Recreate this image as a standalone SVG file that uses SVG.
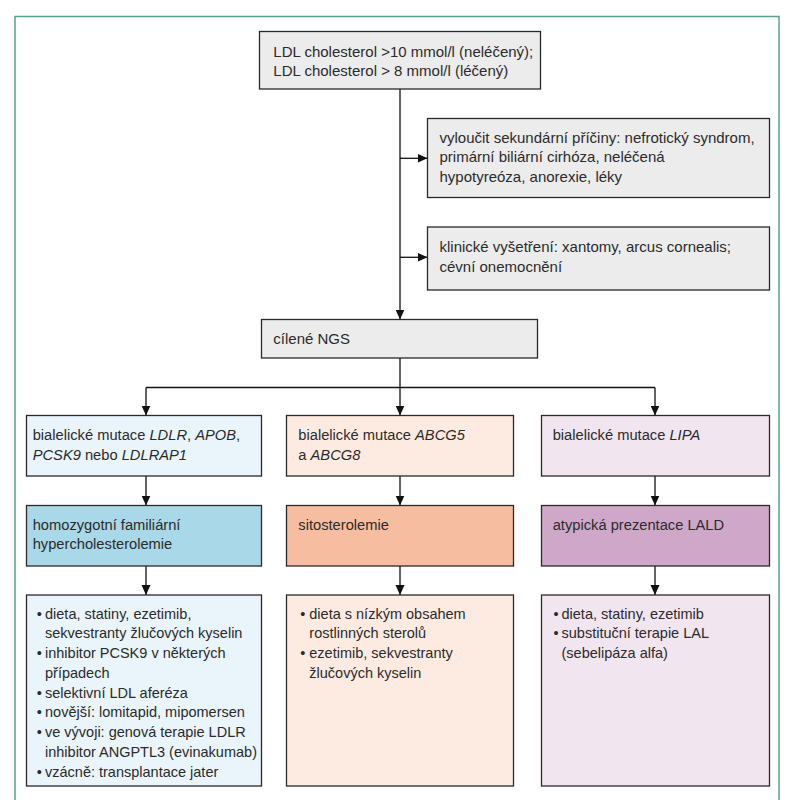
<svg xmlns="http://www.w3.org/2000/svg" width="796" height="800" viewBox="0 0 796 800">
<defs>
<marker id="ah" markerUnits="userSpaceOnUse" markerWidth="11" markerHeight="10" refX="10" refY="4.5" orient="auto">
<path d="M0,0 L10,4.5 L0,9 z" fill="#111"/>
</marker>
<style>
.t{font-family:"Liberation Sans",Arial,sans-serif;font-size:15px;fill:#2b2b2b}
.c{font-size:14.7px}
.r{font-size:14.5px}
.i{font-style:italic}
.box{stroke:#2a2a2a;stroke-width:1.3}
.gray{fill:#ececec}
.lb{fill:#e9f5fa}.db{fill:#a9d8e8}
.lo{fill:#fdebe2}.do{fill:#f6bda1}
.lp{fill:#f1e5f0}.dp{fill:#cfa7c9}
.con{stroke:#111;stroke-width:1.3;fill:none}
</style>
</defs>
<rect width="796" height="800" fill="#fff"/>
<rect x="15" y="16.5" width="764" height="800" fill="none" stroke="#5ca386" stroke-width="1.5"/>

<g id="connectors">
<path class="con" d="M400,89 V319.5" marker-end="url(#ah)"/>
<path class="con" d="M400,158.3 H427.5" marker-end="url(#ah)"/>
<path class="con" d="M400,257.3 H427.5" marker-end="url(#ah)"/>
<path class="con" d="M400,358 V387.5 M146,387.5 H655"/>
<path class="con" d="M146,387.5 V415.5" marker-end="url(#ah)"/>
<path class="con" d="M400,387.5 V415.5" marker-end="url(#ah)"/>
<path class="con" d="M655,387.5 V415.5" marker-end="url(#ah)"/>
<path class="con" d="M146,476 V505.5" marker-end="url(#ah)"/>
<path class="con" d="M400,476 V505.5" marker-end="url(#ah)"/>
<path class="con" d="M655,476 V505.5" marker-end="url(#ah)"/>
<path class="con" d="M146,566 V595" marker-end="url(#ah)"/>
<path class="con" d="M400,566 V595" marker-end="url(#ah)"/>
<path class="con" d="M655,566 V595" marker-end="url(#ah)"/>
</g>

<g id="ldl">
<rect class="box gray" x="259.5" y="31.5" width="281" height="57.5"/>
<text class="t" x="273.3" y="57">LDL cholesterol &gt;10 mmol/l (neléčený);</text>
<text class="t" x="273.3" y="76">LDL cholesterol &gt; 8 mmol/l (léčený)</text>
</g>

<g id="sekundarni">
<rect class="box gray" x="427.5" y="118.5" width="342" height="79"/>
<text class="t" x="439.5" y="142.5">vyloučit sekundární příčiny: nefrotický syndrom,</text>
<text class="t" x="439.5" y="162">primární biliární cirhóza, neléčená</text>
<text class="t" x="439.5" y="181.5">hypotyreóza, anorexie, léky</text>
</g>

<g id="klinicke">
<rect class="box gray" x="427.5" y="227" width="342" height="63"/>
<text class="t" x="439.5" y="252">klinické vyšetření: xantomy, arcus cornealis;</text>
<text class="t" x="439.5" y="271.5">cévní onemocnění</text>
</g>

<g id="ngs">
<rect class="box gray" x="261.5" y="319.5" width="276" height="38.5"/>
<text class="t" x="273.3" y="343.5">cílené NGS</text>
</g>

<g id="mut1">
<rect class="box lb" x="26.5" y="415.5" width="235" height="60.5"/>
<text class="t c" x="32.7" y="440">bialelické mutace <tspan class="i">LDLR</tspan>, <tspan class="i">APOB</tspan>,</text>
<text class="t c" x="32.7" y="459.5"><tspan class="i">PCSK9</tspan> nebo <tspan class="i">LDLRAP1</tspan></text>
</g>
<g id="mut2">
<rect class="box lo" x="286.5" y="415.5" width="227" height="60.5"/>
<text class="t c" x="298.3" y="440">bialelické mutace <tspan class="i">ABCG5</tspan></text>
<text class="t c" x="298.3" y="459.5">a <tspan class="i">ABCG8</tspan></text>
</g>
<g id="mut3">
<rect class="box lp" x="541.5" y="415.5" width="228" height="60.5"/>
<text class="t c" x="552.7" y="440">bialelické mutace <tspan class="i">LIPA</tspan></text>
</g>

<g id="dx1">
<rect class="box db" x="26.5" y="505.5" width="235" height="60.5"/>
<text class="t c" x="32.7" y="529.5">homozygotní familiární</text>
<text class="t c" x="32.7" y="549">hypercholesterolemie</text>
</g>
<g id="dx2">
<rect class="box do" x="286.5" y="505.5" width="227" height="60.5"/>
<text class="t c" x="298.3" y="529.5">sitosterolemie</text>
</g>
<g id="dx3">
<rect class="box dp" x="541.5" y="505.5" width="228" height="60.5"/>
<text class="t c" x="552.7" y="529.5">atypická prezentace LALD</text>
</g>

<g id="tx1">
<rect class="box lb" x="26.5" y="595" width="235" height="191"/>
<text class="t r" x="36.8" y="618.5">•</text><text class="t r" x="45" y="618.5">dieta, statiny, ezetimib,</text>
<text class="t r" x="45" y="638.2">sekvestranty žlučových kyselin</text>
<text class="t r" x="36.8" y="658">•</text><text class="t r" x="45" y="658">inhibitor PCSK9 v některých</text>
<text class="t r" x="45" y="677.7">případech</text>
<text class="t r" x="36.8" y="697.5">•</text><text class="t r" x="45" y="697.5">selektivní LDL aferéza</text>
<text class="t r" x="36.8" y="717.2">•</text><text class="t r" x="45" y="717.2">novější: lomitapid, mipomersen</text>
<text class="t r" x="36.8" y="737">•</text><text class="t r" x="45" y="737">ve vývoji: genová terapie LDLR</text>
<text class="t r" x="45" y="756.7">inhibitor ANGPTL3 (evinakumab)</text>
<text class="t r" x="36.8" y="776.5">•</text><text class="t r" x="45" y="776.5">vzácně: transplantace jater</text>
</g>
<g id="tx2">
<rect class="box lo" x="286.5" y="595" width="227" height="191"/>
<text class="t r" x="300.2" y="618.5">•</text><text class="t r" x="309.3" y="618.5">dieta s nízkým obsahem</text>
<text class="t r" x="309.3" y="638.2">rostlinných sterolů</text>
<text class="t r" x="300.2" y="658">•</text><text class="t r" x="309.3" y="658">ezetimib, sekvestranty</text>
<text class="t r" x="309.3" y="677.7">žlučových kyselin</text>
</g>
<g id="tx3">
<rect class="box lp" x="541.5" y="595" width="228" height="191"/>
<text class="t r" x="553.5" y="618.5">•</text><text class="t r" x="561.5" y="618.5">dieta, statiny, ezetimib</text>
<text class="t r" x="553.5" y="638.2">•</text><text class="t r" x="561.5" y="638.2">substituční terapie LAL</text>
<text class="t r" x="561.5" y="658">(sebelipáza alfa)</text>
</g>
</svg>
